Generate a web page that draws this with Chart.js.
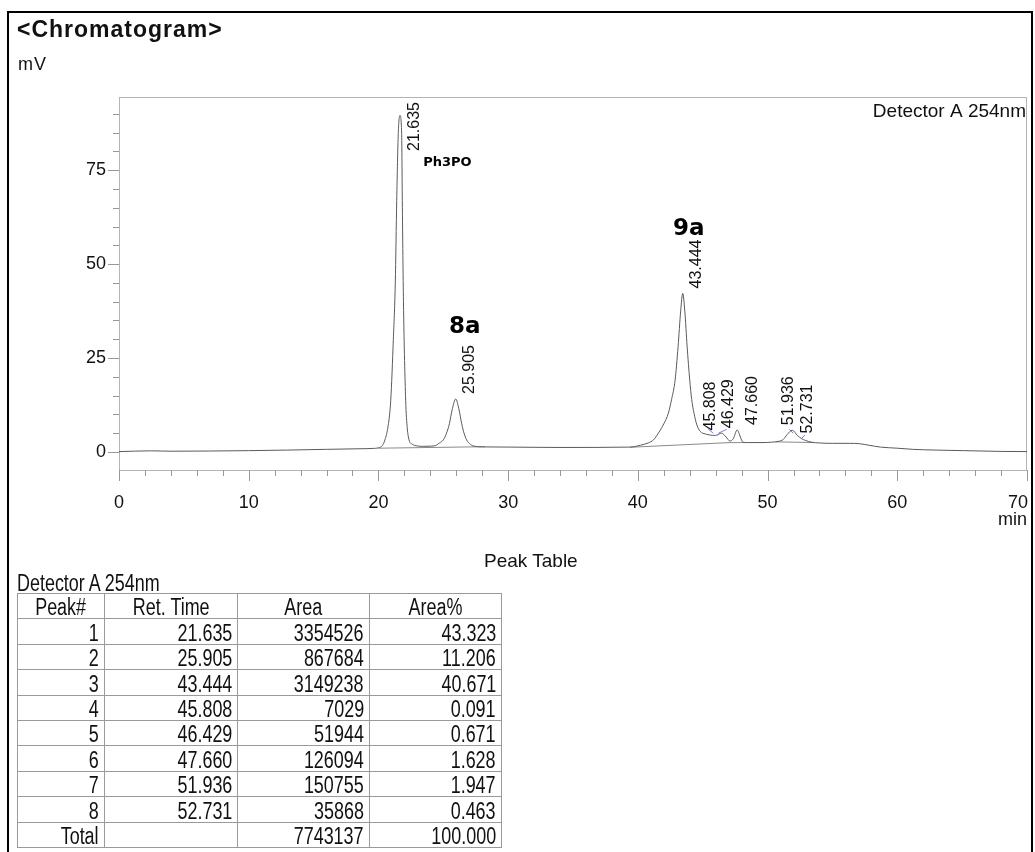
<!DOCTYPE html>
<html>
<head>
<meta charset="utf-8">
<title>Chromatogram</title>
<script src="https://cdn.jsdelivr.net/npm/chart.js@4.4.1/dist/chart.umd.min.js"></script>
<style>
  body { margin: 0; background: #fff; font-family: 'Liberation Sans', Arial, sans-serif; color: #111; }
  #page { position: relative; width: 1035px; height: 852px; overflow: hidden; }
  #chart { position: absolute; left: 0; top: 0; }
  #frame { position: absolute; left: 7px; top: 11px; width: 1022px; height: 900px; border: 2px solid #000; }
  .txt { position: absolute; line-height: 1; white-space: nowrap; }
  #title { left: 17px; top: 18px; font-size: 23px; font-weight: bold; letter-spacing: 1px; }
  #unit { left: 18px; top: 55px; font-size: 18px; letter-spacing: 1px; }
  #peakTitle { left: 484px; top: 551px; font-size: 19px; }
  /* narrow look of the report table */
  .sq { display: inline-block; transform: scaleX(0.78); transform-origin: 100% 50%; }
  .head .sq { transform-origin: 50% 50%; }
  #tableDet .sq { transform-origin: 0 50%; }
  #tableDet { left: 17px; top: 572px; font-size: 23px; line-height: 22px; }
  #peakTable { position: absolute; left: 17px; top: 593px; border-collapse: collapse; table-layout: fixed; font-size: 23px; color: #111; }
  #peakTable td { border: 1px solid #9a9a9a; height: 25.4px; box-sizing: border-box; padding: 0 5px 0 0; line-height: 22px;
                  text-align: right; vertical-align: bottom; white-space: nowrap; overflow: hidden; }
  #peakTable tr.head td { text-align: center; padding: 0; }
</style>
</head>
<body>
<div id="page">
  <canvas id="chart" width="1035" height="540"></canvas>
  <div id="frame"></div>
  <div class="txt" id="title">&lt;Chromatogram&gt;</div>
  <div class="txt" id="unit">mV</div>
  <div class="txt" id="peakTitle">Peak Table</div>
  <div class="txt" id="tableDet"><span class="sq">Detector A 254nm</span></div>
  <table id="peakTable">
    <colgroup><col style="width:87px"><col style="width:133px"><col style="width:132px"><col style="width:132px"></colgroup>
    <tbody id="tableBody"></tbody>
  </table>
</div>
<script>
// Detector trace (minutes, mV)
const signalTime = [0, 2.5, 4, 7, 10, 13, 16, 18.5, 19.6,
  20.0, 20.3, 20.5, 20.75, 20.95, 21.15, 21.3, 21.41, 21.53, 21.66, 21.79, 21.84, 21.93, 22.1, 22.22, 22.36, 22.6, 23.0,
  23.5, 24.0, 24.4, 24.7, 25.0, 25.25, 25.47, 25.7, 25.96, 26.2, 26.42, 26.6, 26.8, 27.1, 27.45, 28,
  30, 34, 39.4, 40.2, 40.8, 41.2, 41.58, 42.0, 42.35, 42.6, 42.87, 43.1, 43.3, 43.46, 43.62, 43.8, 44.0, 44.15, 44.33, 44.55,
  44.8, 45.2, 45.6, 45.85, 46.1, 46.45, 46.8, 47.1, 47.35, 47.66, 47.9, 48.1, 48.5, 49.5, 50.3, 50.8, 51.2, 51.5, 51.9,
  52.3, 52.6, 52.9, 53.4, 54, 55, 56.3, 57.1, 57.8, 58.7, 60, 61.2, 63, 65.1, 68, 70];
const signalMv = [0.1, 0.3, 0.2, 0.25, 0.35, 0.5, 0.7, 0.85, 0.95,
  1.1, 1.7, 3.2, 7.0, 13.8, 30, 45, 67, 84.8, 89.6, 84.8, 67, 40, 13.8, 6.5, 3.2, 2.1, 1.6,
  1.5, 1.55, 1.7, 2.4, 3.2, 5.0, 7.5, 11.5, 14.1, 11.5, 7.5, 5.0, 3.2, 2.0, 1.5, 1.35,
  1.3, 1.2, 1.3, 1.8, 2.4, 3.2, 5.0, 7.5, 10.3, 14, 19.1, 28, 37.5, 42.2, 37.5, 28, 19.1, 14, 10.3, 7.2,
  5.5, 4.8, 4.5, 4.4, 4.5, 5.0, 4.0, 2.9, 3.5, 5.85, 4.0, 2.6, 2.5, 2.5, 2.6, 2.8, 3.3, 4.6, 5.8,
  4.4, 3.6, 3.1, 2.6, 2.4, 2.3, 2.3, 2.2, 1.8, 1.3, 1.0, 0.7, 0.5, 0.35, 0.15, 0.1];

// Integration baselines drawn under the peaks (minutes, mV)
const baselineSegments = [
  [[20.0, 1.0], [28.2, 1.4]],
  [[39.4, 1.25], [47.1, 2.5]],
  [[47.1, 2.5], [48.3, 2.5]],
  [[50.6, 2.7], [53.6, 2.5]]
];
// Small blue peak start/end markers
const markerSegments = [
  [[45.44, 6.04], [45.82, 4.97]],
  [[46.2, 4.97], [46.85, 6.04]],
  [[51.68, 6.04], [51.98, 4.97]],
  [[52.63, 3.64], [52.89, 4.52]]
];

// Peak table
const peakNums = [1, 2, 3, 4, 5, 6, 7, 8];
const retTimes = [21.635, 25.905, 43.444, 45.808, 46.429, 47.660, 51.936, 52.731];
const areas = [3354526, 867684, 3149238, 7029, 51944, 126094, 150755, 35868];
const areaPct = [43.323, 11.206, 40.671, 0.091, 0.671, 1.628, 1.947, 0.463];
const totalArea = 7743137;
const totalPct = 100.000;
// signal height at each labelled peak (mV)
const peakHeights = [89.6, 14.1, 42.2, 4.4, 5.0, 5.85, 5.8, 3.6];

// Compound names written next to peaks (minutes, mV)
const compoundNames = ['Ph3PO', '8a', '9a'];
const compoundTimes = [23.45, 25.44, 42.7];
const compoundMv = [77.1, 33.2, 59.3];

const yLabelStep = 25;
const xLabelStep = 10;

// pixel nudges so neighbouring peak labels do not overlap
const labelShift = [15, 15, 14, -3, 7, 15, -4, 5];

function cell(v) {
  return `<td><span class="sq">${v}</span></td>`;
}

function buildTable() {
  let rows = '<tr class="head">' + ['Peak#', 'Ret. Time', 'Area', 'Area%'].map(cell).join('') + '</tr>';
  peakNums.forEach((n, i) => {
    rows += '<tr>' + cell(n) + cell(retTimes[i].toFixed(3)) + cell(areas[i]) + cell(areaPct[i].toFixed(3)) + '</tr>';
  });
  rows += '<tr>' + cell('Total') + '<td></td>' + cell(totalArea) + cell(totalPct.toFixed(3)) + '</tr>';
  document.getElementById('tableBody').innerHTML = rows;
}

const FONT = '"Liberation Sans", Arial, sans-serif';

const chromPlugin = {
  id: 'chrom',
  beforeDatasetsDraw(chart) {
    const { ctx, chartArea: a, scales: { x, y } } = chart;
    ctx.save();
    ctx.lineWidth = 1;
    ctx.strokeStyle = '#b4b4b4';
    ctx.strokeRect(a.left + 0.5, a.top + 0.5, a.right - a.left - 1, a.bottom - a.top);

    // tick marks, longer at labelled values
    ctx.strokeStyle = '#999';
    ctx.beginPath();
    y.ticks.forEach(t => {
      const py = Math.round(y.getPixelForValue(t.value)) + 0.5;
      const len = t.value % yLabelStep === 0 ? 11 : 6;
      ctx.moveTo(a.left - len, py);
      ctx.lineTo(a.left, py);
    });
    x.ticks.forEach(t => {
      const px = Math.round(x.getPixelForValue(t.value)) + 0.5;
      const len = t.value % xLabelStep === 0 ? 11 : 6;
      ctx.moveTo(px, a.bottom);
      ctx.lineTo(px, a.bottom + len);
    });
    ctx.stroke();

    // x labels, the last one kept inside the plot edge
    ctx.fillStyle = '#111';
    ctx.font = '18px ' + FONT;
    ctx.textBaseline = 'middle';
    x.ticks.forEach(t => {
      if (t.value % xLabelStep !== 0) return;
      const label = String(t.value);
      const w = ctx.measureText(label).width;
      let px = x.getPixelForValue(t.value);
      ctx.textAlign = 'center';
      if (px + w / 2 > a.right + 1) {
        ctx.textAlign = 'right';
        px = a.right + 1;
      }
      ctx.fillText(label, px, a.bottom + 33);
    });
    ctx.restore();
  },
  afterDatasetsDraw(chart) {
    const { ctx, chartArea: a, scales: { x, y } } = chart;
    ctx.save();
    ctx.fillStyle = '#111';

    ctx.font = '19px ' + FONT;
    ctx.textAlign = 'right';
    ctx.textBaseline = 'middle';
    ctx.fillText('Detector A 254nm', a.right - 1, a.top + 15);

    // rotated retention time labels
    ctx.font = '16px ' + FONT;
    ctx.textAlign = 'left';
    retTimes.forEach((t, i) => {
      const label = t.toFixed(3);
      const w = ctx.measureText(label).width;
      const px = x.getPixelForValue(t) + labelShift[i];
      let bottom = y.getPixelForValue(peakHeights[i]) - 5;
      if (bottom - w < a.top + 5) bottom = a.top + 5 + w;
      ctx.save();
      ctx.translate(px, bottom);
      ctx.rotate(-Math.PI / 2);
      ctx.fillText(label, 0, 0);
      ctx.restore();
    });

    // compound names
    ctx.fillStyle = '#000';
    compoundNames.forEach((name, i) => {
      const size = name.length > 3 ? 13 : 23;
      ctx.font = `bold ${size}px "DejaVu Sans", Verdana, sans-serif`;
      ctx.fillText(name, x.getPixelForValue(compoundTimes[i]), y.getPixelForValue(compoundMv[i]));
    });
    ctx.restore();
  }
};

function segmentDatasets(segments, color) {
  return segments.map(seg => ({
    data: seg.map(p => ({ x: p[0], y: p[1] })),
    borderColor: color,
    borderWidth: 1,
    pointRadius: 0,
    fill: false
  }));
}

function createChromatogram() {
  const ctx = document.getElementById('chart').getContext('2d');
  const trace = signalTime.map((t, i) => ({ x: t, y: signalMv[i] }));
  new Chart(ctx, {
    type: 'line',
    data: {
      datasets: [
        {
          data: trace,
          borderColor: '#5a5a5a',
          borderWidth: 1,
          pointRadius: 0,
          cubicInterpolationMode: 'monotone',
          fill: false
        },
        ...segmentDatasets(baselineSegments, '#8a8a8a'),
        ...segmentDatasets(markerSegments, '#7a7aff')
      ]
    },
    options: {
      responsive: false,
      animation: false,
      devicePixelRatio: 1,
      layout: { padding: { top: 97, right: 8, left: 0, bottom: 0 } },
      plugins: { legend: { display: false }, tooltip: { enabled: false } },
      scales: {
        x: {
          type: 'linear',
          min: 0,
          max: 70,
          ticks: { display: false, stepSize: 2 },
          grid: { display: false, drawTicks: false },
          border: { display: false },
          title: { display: true, text: 'min', align: 'end', color: '#111', font: { size: 18, family: FONT }, padding: { top: 0, bottom: 9 } },
          afterFit(scale) { scale.height = 70; scale.paddingLeft = 0; scale.paddingRight = 0; }
        },
        y: {
          min: -4.8,
          max: 94.5,
          ticks: {
            stepSize: 5,
            autoSkip: false,
            includeBounds: false,
            padding: 13,
            color: '#111',
            font: { size: 18, family: FONT },
            callback: v => (v % yLabelStep === 0 ? v : '')
          },
          grid: { display: false, drawTicks: false },
          border: { display: false },
          afterFit(scale) { scale.width = 119; }
        }
      }
    },
    plugins: [chromPlugin]
  });
}

buildTable();
createChromatogram();
</script>
</body>
</html>
